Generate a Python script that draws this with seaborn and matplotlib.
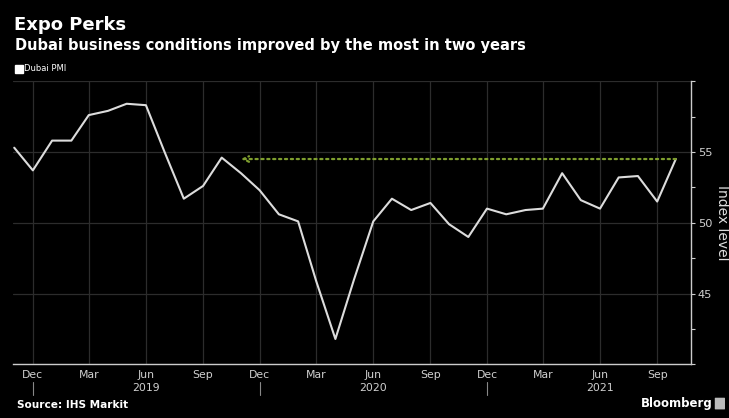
import pandas as pd
import seaborn as sns
import matplotlib.pyplot as plt
from matplotlib.lines import Line2D
from matplotlib.patches import FancyBboxPatch

# Dubai PMI, monthly, Nov 2018 - Oct 2021
months = pd.date_range("2018-11-01", "2021-10-01", freq="MS")
pmi = [55.3, 53.7, 55.8, 55.8, 57.6, 57.9, 58.4, 58.3, 55.0, 51.7, 52.6, 54.6,
       53.5, 52.3, 50.6, 50.1, 45.9, 41.8, 46.0, 50.1, 51.7, 50.9, 51.4, 49.9,
       49.0, 51.0, 50.6, 50.9, 51.0, 53.5, 51.6, 51.0, 53.2, 53.3, 51.5, 54.5]
quarter_ticks = pd.date_range("2018-12-01", "2021-09-01", freq="3MS")
year_marks = pd.to_datetime(["2018-12-01", "2019-12-01", "2020-12-01"])
arrow_target = pd.Timestamp("2019-11-01")
y_major = [40, 45, 50, 55, 60]
y_major_labels = ["", "45", "50", "55", ""]
y_minor = [42.5, 47.5, 52.5, 57.5]

df = pd.DataFrame({"date": months, "pmi": pmi})

sns.set_style("dark", {
    "axes.facecolor": "black",
    "figure.facecolor": "black",
    "text.color": "white",
    "axes.labelcolor": "#dddddd",
    "xtick.color": "#d0d0d0",
    "ytick.color": "#d0d0d0",
    "grid.color": "#2c2c2c",
})
plt.rcParams["font.family"] = ["DejaVu Sans"]

fig = plt.figure(figsize=(7.29, 4.18), dpi=100)
ax = fig.add_axes([0.0178, 0.128, 0.9297, 0.678])

sns.lineplot(data=df, x="date", y="pmi", color="#dcdcdc", linewidth=1.5, ax=ax)

# dotted arrow from latest reading back to late 2019
ax.annotate("", xy=(arrow_target, pmi[-1]), xytext=(months[-1], pmi[-1]),
            arrowprops=dict(arrowstyle="->", linestyle=":", color="#7f9f2f", lw=1.6,
                            shrinkA=0, shrinkB=0))

ax.set_xlim(pd.Timestamp("2018-10-30"), pd.Timestamp("2021-10-25"))
ax.set_ylim(40, 60)

ax.set_xticks(quarter_ticks)
labels = [d.strftime("%b") + ("\n" + d.strftime("%Y") if d.month == 6 else "")
          for d in quarter_ticks]
ax.set_xticklabels(labels, fontsize=7.8, color="#d0d0d0")
for lbl in ax.get_xticklabels():
    lbl.set_linespacing(1.35)
    lbl.set_verticalalignment("top")
ax.set_xticks(months, minor=True)
ax.tick_params(axis="x", which="both", length=2, width=0.8, pad=3, direction="inout")

ax.yaxis.tick_right()
ax.yaxis.set_label_position("right")
ax.set_yticks(y_major)
ax.set_yticklabels(y_major_labels, fontsize=8.2)
ax.set_yticks(y_minor, minor=True)
ax.tick_params(axis="y", which="both", length=3, width=0.8, pad=2)
ax.set_ylabel("Index level", rotation=270, fontsize=10, labelpad=12, color="#dddddd")
ax.set_xlabel("")

ax.grid(True, which="major", axis="both", color="#2c2c2c", linewidth=0.9)
ax.grid(False, which="minor")
for s in ["top", "left"]:
    ax.spines[s].set_visible(False)
for s in ["bottom", "right"]:
    ax.spines[s].set_color("#cccccc")
    ax.spines[s].set_linewidth(1.0)

# year separators under the axis
for d in year_marks:
    ax.plot([d, d], [-0.06, -0.108], transform=ax.get_xaxis_transform(),
            color="#888888", lw=0.8, clip_on=False)

handle = Line2D([], [], marker="s", color="white", linestyle="", markersize=5.5)
ax.legend(handles=[handle], labels=["Dubai PMI"], loc="center left",
          bbox_to_anchor=(0.021, 0.835), bbox_transform=fig.transFigure,
          frameon=False, fontsize=6, handletextpad=0.1, handlelength=1.0,
          borderpad=0, borderaxespad=0, labelcolor="white")

fig.text(0.019, 1 - 30 / 418, "Expo Perks", fontsize=13, fontweight="bold",
         color="white", va="baseline")
fig.text(0.020, 1 - 50 / 418, "Dubai business conditions improved by the most in two years",
         fontsize=10.5, fontweight="bold", color="white", va="baseline")
fig.text(0.023, 1 - 405 / 418, "Source: IHS Markit", fontsize=7.6, fontweight="bold",
         color="white", va="center")
fig.text(0.977, 1 - 403 / 418, "Bloomberg", fontsize=8.5, fontweight="bold",
         color="white", va="center", ha="right")
fig.patches.append(FancyBboxPatch((0.9815, 1 - 409 / 418), 0.012, 0.026,
                                  boxstyle="round,pad=0.001", transform=fig.transFigure,
                                  facecolor="#bbbbbb", edgecolor="none"))

fig.savefig("out.png", dpi=100, facecolor="black")
